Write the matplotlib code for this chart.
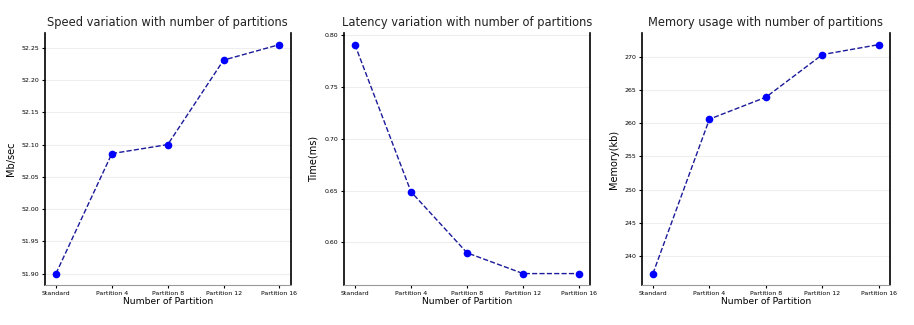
import matplotlib
matplotlib.use("Agg")
import matplotlib.pyplot as plt

partitions = ["Standard", "Partition 4", "Partition 8", "Partition 12", "Partition 16"]
speed = [51.90, 52.086, 52.10, 52.231, 52.255]
latency = [0.791, 0.649, 0.590, 0.570, 0.570]
memory = [237.4, 260.6, 263.9, 270.3, 271.8]

panels = [
    (speed, "Speed variation with number of partitions", "Mb/sec", [0.049, 0.123, 0.269, 0.775]),
    (latency, "Latency variation with number of partitions", "Time(ms)", [0.376, 0.123, 0.270, 0.775]),
    (memory, "Memory usage with number of partitions", "Memory(kb)", [0.702, 0.123, 0.272, 0.775]),
]

fig = plt.figure(figsize=(9.14, 3.25), dpi=100)

for values, title, ylabel, rect in panels:
    ax = fig.add_axes(rect)
    ax.plot(partitions, values, linestyle="--", color="#1a1a9a", linewidth=1,
            marker="o", markersize=4.5, markerfacecolor="blue", markeredgecolor="blue")
    ax.set_title(title, fontsize=8.3, pad=5, color="#222222")
    ax.set_xlabel("Number of Partition", fontsize=6.6, labelpad=1)
    ax.set_ylabel(ylabel, fontsize=7, labelpad=4)
    ax.tick_params(axis="both", labelsize=4.5, length=2, pad=2)
    ax.grid(axis="y", color="#eeeeee", linewidth=0.8)
    ax.set_axisbelow(True)
    ax.spines["top"].set_visible(False)
    for side in ["left", "right"]:
        ax.spines[side].set_color("black")
        ax.spines[side].set_linewidth(1.2)
    ax.spines["bottom"].set_color("#999999")

fig.savefig("out.png", dpi=100)
